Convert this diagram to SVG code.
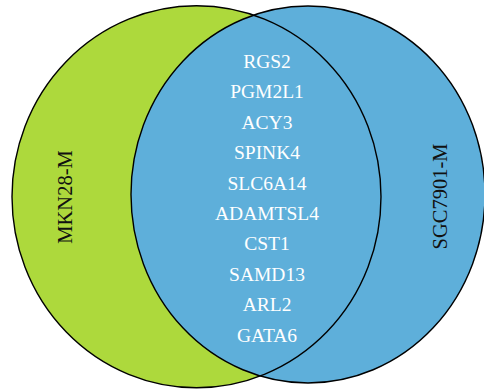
<svg xmlns="http://www.w3.org/2000/svg" width="484" height="392" viewBox="0 0 484 392">
  <style>
    .gene { font-family: "Liberation Serif", "Times New Roman", serif; font-size: 19.5px; fill: #ffffff; text-anchor: middle; }
    .set { font-family: "Liberation Serif", "Times New Roman", serif; font-size: 20.5px; fill: #111111; text-anchor: middle; }
    .outline { fill: none; stroke: #000000; stroke-width: 1.4; }
  </style>
  <rect width="484" height="392" fill="#ffffff"/>
  <g id="set-mkn28">
    <ellipse cx="196.5" cy="196.7" rx="184.5" ry="191" fill="#ADD93C"/>
  </g>
  <g id="set-sgc7901">
    <ellipse cx="308" cy="194.5" rx="177" ry="188.5" fill="#5EAFDA"/>
  </g>
  <g id="outlines">
    <ellipse class="outline" cx="196.5" cy="196.7" rx="184.5" ry="191"/>
    <ellipse class="outline" cx="308" cy="194.5" rx="177" ry="188.5"/>
  </g>
  <g id="label-mkn28">
    <text class="set" x="72" y="197" transform="rotate(-90 72 197)">MKN28-M</text>
  </g>
  <g id="label-sgc7901">
    <text class="set" x="447" y="196.5" transform="rotate(-90 447 196.5)">SGC7901-M</text>
  </g>
  <g id="intersection">
    <text class="gene" x="267" y="68">RGS2</text>
    <text class="gene" x="267" y="98.4">PGM2L1</text>
    <text class="gene" x="267" y="128.8">ACY3</text>
    <text class="gene" x="267" y="159.2">SPINK4</text>
    <text class="gene" x="267" y="189.6">SLC6A14</text>
    <text class="gene" x="267" y="220">ADAMTSL4</text>
    <text class="gene" x="267" y="250.4">CST1</text>
    <text class="gene" x="267" y="280.8">SAMD13</text>
    <text class="gene" x="267" y="311.2">ARL2</text>
    <text class="gene" x="267" y="341.6">GATA6</text>
  </g>
</svg>
